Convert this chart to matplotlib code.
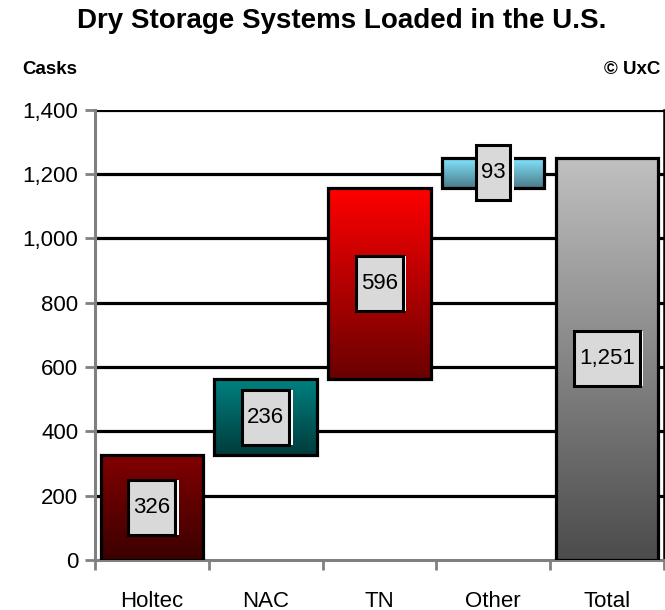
import numpy as np
import matplotlib
matplotlib.use('Agg')
import matplotlib.pyplot as plt
from matplotlib.patches import Rectangle
from matplotlib.ticker import FuncFormatter
from matplotlib import font_manager

# the reference text is tall and narrow, use a narrow family if we have one
names = set(f.name for f in font_manager.fontManager.ttflist)
if 'Liberation Sans Narrow' in names:
    body_font = ['Liberation Sans Narrow', 'DejaVu Sans']
    fs = 20
else:
    body_font = ['Liberation Sans', 'DejaVu Sans']
    fs = 16
plt.rcParams['font.family'] = body_font

# data
categories = ['Holtec', 'NAC', 'TN', 'Other', 'Total']
values = [326, 236, 596, 93, 1251]
labels = ['326', '236', '596', '93', '1,251']

# gradient colours (top, bottom) for each bar
grad_top = ['#800000', '#008080', '#ff0000', '#82e6ff', '#c0c0c0']
grad_bot = ['#3c0000', '#003c3c', '#6a0000', '#4a7a88', '#4c4c4c']

# waterfall bottoms
bottoms = []
run = 0
for v in values[:-1]:
    bottoms.append(run)
    run += v
bottoms.append(0)

fig = plt.figure(figsize=(6.65, 6.1), dpi=100)
ax = fig.add_axes([0.143, 0.082, 0.855, 0.738])

ax.set_xlim(0, len(categories))
ax.set_ylim(0, 1400)

# black gridlines
for y in range(200, 1401, 200):
    ax.axhline(y, color='black', lw=2.3, zorder=1)

renderer = fig.canvas.get_renderer()
bw = 0.9
px_per_unit = 450 / 1400.0
px_per_cat = 569 / 5.0
for i, (v, b) in enumerate(zip(values, bottoms)):
    x0 = i + 0.5 - bw / 2
    c1 = np.array(matplotlib.colors.to_rgb(grad_top[i]))
    c2 = np.array(matplotlib.colors.to_rgb(grad_bot[i]))
    t = np.linspace(0, 1, 100)[:, None]
    grad = c1 * (1 - t) + c2 * t
    grad = grad[:, None, :]
    ax.imshow(grad, extent=[x0, x0 + bw, b, b + v], aspect='auto',
              origin='upper', zorder=2, interpolation='bilinear')
    ax.add_patch(Rectangle((x0, b), bw, v, fill=False, ec='black', lw=2.3, zorder=3))

    # label box sized around the text
    cx = i + 0.5
    cy = b + v / 2
    txt = ax.text(cx, cy, labels[i], ha='center', va='center', fontsize=fs, zorder=6)
    tw = txt.get_window_extent(renderer).width
    bwid = (tw + 10) / px_per_cat
    bh = 55 / px_per_unit
    ax.add_patch(Rectangle((cx - bwid / 2 + 3.5 / px_per_cat, cy - bh / 2), bwid, bh,
                           fc='white', ec='none', zorder=4))
    ax.add_patch(Rectangle((cx - bwid / 2, cy - bh / 2), bwid, bh,
                           fc='#d9d9d9', ec='black', lw=2.2, zorder=5))

ax.set_xticks(np.arange(0, len(categories) + 1))
ax.set_xticklabels([])
ax.set_xticks(np.arange(len(categories)) + 0.5, minor=True)
ax.set_xticklabels(categories, minor=True, fontsize=fs)
ax.tick_params(axis='x', which='minor', length=0, pad=22)
ax.tick_params(axis='x', which='major', length=7, width=2, color='#808080')
ax.set_yticks(range(0, 1401, 200))
ax.yaxis.set_major_formatter(FuncFormatter(lambda v, p: f'{int(v):,}'))
ax.tick_params(axis='y', length=7, width=2, color='#808080', labelsize=fs, pad=5)

for s in ['left', 'bottom']:
    ax.spines[s].set_color('#808080')
    ax.spines[s].set_linewidth(2.2)
ax.spines['top'].set_visible(False)
ax.spines['right'].set_color('black')
ax.spines['right'].set_linewidth(1.8)

fig.text(342 / 665, 1 - 21 / 610, 'Dry Storage Systems Loaded in the U.S.',
         ha='center', va='center', fontsize=20, fontweight='bold',
         family=['Liberation Sans', 'DejaVu Sans'])
fig.text(22 / 665, 1 - 70 / 610, 'Casks', ha='left', va='center', fontsize=13.5, fontweight='bold')
fig.text(660 / 665, 1 - 69 / 610, '\u00a9 UxC', ha='right', va='center', fontsize=13.5, fontweight='bold')

fig.savefig('out.png', dpi=100)
